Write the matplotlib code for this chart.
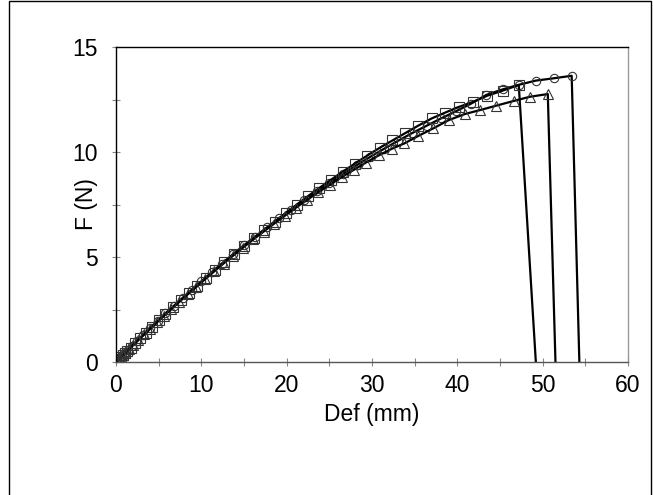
import matplotlib
matplotlib.use("Agg")
import matplotlib.pyplot as plt
from matplotlib.ticker import MultipleLocator

plt.rcParams['font.family'] = ['Liberation Sans', 'DejaVu Sans']

# sample with circles
def_circ = [0, 0.1, 0.3, 0.5, 0.7, 1.0, 1.4, 1.9, 2.5, 3.2, 4.0, 4.9, 5.8, 6.8, 7.8,
            8.9, 10.0, 11.2, 12.4, 13.7, 15.0, 16.3, 17.7, 19.1, 20.5, 22.0, 23.5,
            25.0, 26.6, 28.2, 29.8, 31.4, 33.0, 34.7, 36.4, 38.1, 39.8, 41.6, 43.4,
            45.3, 47.2, 49.2, 51.3, 53.4, 54.3]
f_circ = [0, 0.04, 0.12, 0.21, 0.29, 0.41, 0.58, 0.78, 1.02, 1.30, 1.62, 1.97, 2.32,
          2.68, 3.05, 3.44, 3.84, 4.27, 4.69, 5.13, 5.56, 5.97, 6.41, 6.85, 7.26,
          7.70, 8.12, 8.53, 8.96, 9.37, 9.77, 10.15, 10.52, 10.90, 11.25, 11.60,
          11.93, 12.30, 12.72, 12.98, 13.20, 13.40, 13.51, 13.63, 0]

# sample with squares
def_sq = [0, 0.2, 0.4, 0.6, 0.8, 1.0, 1.3, 1.7, 2.2, 2.8, 3.5, 4.2, 5.0, 5.8, 6.7,
          7.6, 8.5, 9.5, 10.5, 11.6, 12.7, 13.8, 15.0, 16.2, 17.4, 18.6, 19.9, 21.2,
          22.5, 23.8, 25.2, 26.6, 28.0, 29.4, 30.9, 32.4, 33.9, 35.4, 37.0, 38.6,
          40.2, 41.8, 43.5, 45.3, 47.2, 49.2]
f_sq = [0, 0.08, 0.16, 0.25, 0.33, 0.41, 0.53, 0.69, 0.89, 1.13, 1.40, 1.67, 1.98,
        2.28, 2.62, 2.95, 3.28, 3.64, 3.99, 4.38, 4.76, 5.12, 5.52, 5.91, 6.29, 6.66,
        7.10, 7.50, 7.90, 8.28, 8.68, 9.07, 9.45, 9.82, 10.20, 10.55, 10.90, 11.25,
        11.60, 11.88, 12.15, 12.38, 12.68, 12.92, 13.19, 0]

# sample with triangles
def_tri = [0, 0.15, 0.35, 0.55, 0.8, 1.1, 1.5, 2.0, 2.6, 3.3, 4.0, 4.8, 5.6, 6.5,
           7.4, 8.4, 9.4, 10.4, 11.5, 12.6, 13.7, 14.9, 16.1, 17.3, 18.5, 19.8, 21.1,
           22.4, 23.7, 25.1, 26.5, 27.9, 29.3, 30.8, 32.3, 33.8, 35.4, 37.2, 39.0,
           40.9, 42.7, 44.5, 46.6, 48.5, 50.6, 51.5]
f_tri = [0, 0.06, 0.14, 0.22, 0.32, 0.44, 0.60, 0.80, 1.04, 1.31, 1.58, 1.89, 2.20,
         2.52, 2.86, 3.22, 3.57, 3.93, 4.31, 4.69, 5.06, 5.45, 5.84, 6.21, 6.58, 6.97,
         7.35, 7.72, 8.08, 8.45, 8.82, 9.16, 9.50, 9.84, 10.15, 10.41, 10.76, 11.13,
         11.52, 11.81, 12.00, 12.20, 12.43, 12.63, 12.76, 0]

fig = plt.figure(figsize=(6.53, 4.95), dpi=100)
ax = fig.add_axes([116 / 653, 133 / 495, 512 / 653, 315 / 495])

# frame around the whole picture
fig.patches.append(plt.Rectangle((9 / 653, -0.01), 642 / 653, 1.008, transform=fig.transFigure,
                                 fill=False, edgecolor='black', linewidth=1.0))

series = [(def_circ, f_circ, 'o', 6), (def_sq, f_sq, 's', 6.5), (def_tri, f_tri, '^', 7)]
for x, y, m, ms in series:
    ax.plot(x, y, color='black', linewidth=1.6, marker=m, markersize=ms,
            markerfacecolor='none', markeredgecolor='#333333', markeredgewidth=0.8,
            markevery=slice(0, len(x) - 1))

ax.set_xlim(0, 60)
ax.set_ylim(0, 15)
ax.xaxis.set_major_locator(MultipleLocator(10))
ax.xaxis.set_minor_locator(MultipleLocator(5))
ax.yaxis.set_major_locator(MultipleLocator(5))
ax.yaxis.set_minor_locator(MultipleLocator(2.5))
ax.tick_params(which='both', direction='inout', length=6, width=0.8, color='#888888',
               labelsize=16.5)
ax.tick_params(axis='y', pad=10)
ax.tick_params(axis='x', pad=6)

ax.spines['left'].set_color('black')
ax.spines['top'].set_color('black')
ax.spines['right'].set_color('#999999')
ax.spines['bottom'].set_color('#555555')
for s in ax.spines.values():
    s.set_linewidth(1.0)

ax.set_xlabel('Def (mm)', fontsize=16.5)
ax.xaxis.set_label_coords(0.5, -0.13)
ax.set_ylabel('F (N)', fontsize=16.5)
ax.yaxis.set_label_coords(-0.035, 0.5)

fig.savefig('out.png', dpi=100)
